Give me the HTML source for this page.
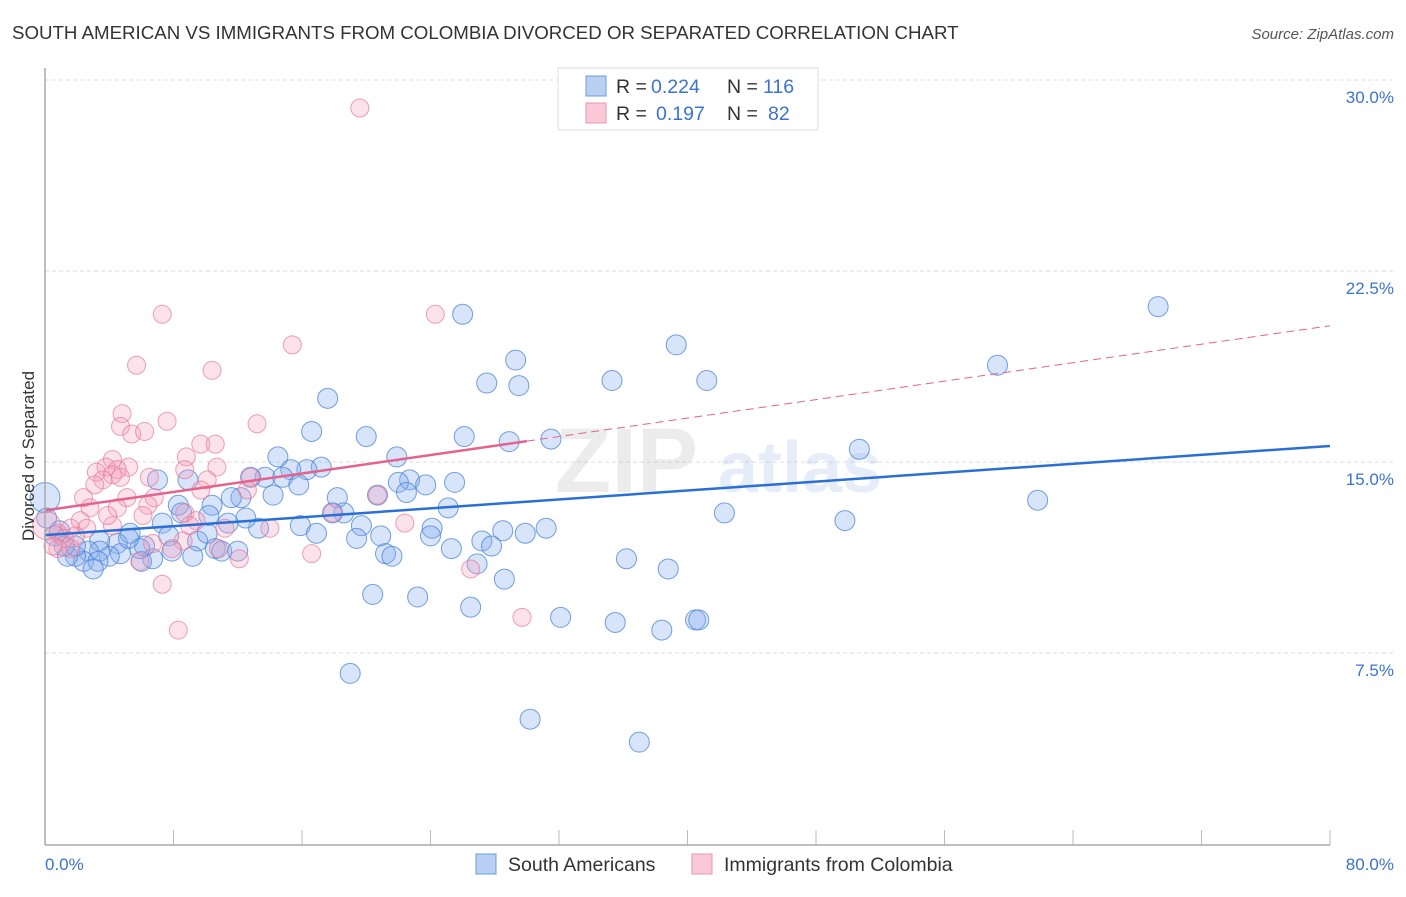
<!DOCTYPE html>
<html><head><meta charset="utf-8">
<style>
body{margin:0;background:#fff;font-family:"Liberation Sans",sans-serif;}
svg text{font-family:"Liberation Sans",sans-serif;}
</style></head>
<body>
<svg id="chart" width="1406" height="892" xmlns="http://www.w3.org/2000/svg">
<text x="12" y="39" font-size="18.7" fill="#333">SOUTH AMERICAN VS IMMIGRANTS FROM COLOMBIA DIVORCED OR SEPARATED CORRELATION CHART</text>
<text x="1394" y="39" font-size="15" fill="#555" text-anchor="end" font-style="italic">Source: ZipAtlas.com</text>
<g id="grid"></g>
<g opacity="0.13">
<text x="555" y="492" font-size="92" fill="#777" font-family="Liberation Serif" font-weight="bold">ZIP</text>
<text x="718" y="492" font-size="72" fill="#4a7ad0" font-weight="bold">atlas</text>
</g>
<g id="pts"></g>
<g id="lines"></g>
<line x1="45" y1="68" x2="45" y2="845" stroke="#aaa" stroke-width="1.5"/>
<line x1="45" y1="845" x2="1330" y2="845" stroke="#aaa" stroke-width="1.5"/>
<text transform="translate(34,456) rotate(-90)" font-size="17" fill="#333" text-anchor="middle">Divorced or Separated</text>
<text x="45" y="870" font-size="17" fill="#3a73d0">0.0%</text>
<text x="1394" y="870" font-size="17" fill="#3a73d0" text-anchor="end">80.0%</text>
<g>
<rect x="558" y="68" width="260" height="62" fill="#fff" stroke="#ddd"/>
<rect x="586" y="76" width="20" height="20" fill="#b9d0f3" stroke="#6b9be0"/>
<rect x="586" y="103" width="20" height="20" fill="#f9c9d7" stroke="#eb94af"/>
<text x="616" y="93" font-size="19.5" fill="#333">R =</text>
<text x="651" y="93" font-size="19.5" fill="#3a73d0">0.224</text>
<text x="727" y="93" font-size="19.5" fill="#333">N =</text>
<text x="763" y="93" font-size="19.5" fill="#3a73d0">116</text>
<text x="616" y="120" font-size="19.5" fill="#333">R =</text>
<text x="656" y="120" font-size="19.5" fill="#3a73d0">0.197</text>
<text x="727" y="120" font-size="19.5" fill="#333">N =</text>
<text x="768" y="120" font-size="19.5" fill="#3a73d0">82</text>
</g>
<g>
<rect x="476" y="854" width="20" height="20" fill="#b9d0f3" stroke="#6b9be0"/>
<text x="508" y="871" font-size="19.5" fill="#333">South Americans</text>
<rect x="692" y="854" width="20" height="20" fill="#f9c9d7" stroke="#eb94af"/>
<text x="724" y="871" font-size="19.5" fill="#333">Immigrants from Colombia</text>
</g>
</svg>
<script>
const yTicks=[7.5,15,22.5,30];
const yTickLabels=["7.5%","15.0%","22.5%","30.0%"];
const xTicks=[0,8,16,24,32,40,48,56,64,72,80];
const blueX=[69.3,59.3,50.7,61.8,49.8,42.3,39.3,41.2,35.3,26.0,29.3,27.5,29.5,31.5,28.9,26.1,17.6,20.0,16.6,21.9,31.2,28.5,29.9,27.2,27.8,24.1,25.3,24.0,26.9,28.6,36.2,38.8,32.1,35.5,38.4,40.5,40.7,26.5,23.2,20.4,19.0,30.2,37.0,22.7,23.7,25.5,22.0,22.5,25.1,20.7,17.2,16.3,15.3,14.5,13.7,14.8,15.8,12.8,14.2,12.2,11.6,18.2,18.6,17.9,19.7,19.4,20.9,21.2,21.6,15.9,16.9,13.3,12.5,11.4,10.4,10.2,8.3,8.5,8.9,7.0,7.3,7.7,9.5,10.1,10.6,11.0,12.0,9.2,7.9,6.7,6.0,6.2,5.3,4.5,4.7,4.0,3.4,3.4,2.7,2.4,3.3,3.0,1.9,1.4,1.9,0.9,0.6,0.0,0.1,1.2,5.9,5.2];
const blueY=[21.1,18.8,15.5,13.5,12.7,13.0,19.6,18.2,18.2,20.8,19.0,18.1,18.0,15.9,15.8,16.0,17.5,16.0,16.2,15.2,12.4,12.3,12.2,11.9,11.7,12.4,11.6,12.1,11.0,10.4,11.2,10.8,8.9,8.7,8.4,8.8,8.8,9.3,9.7,9.8,6.7,4.9,4.0,14.3,14.1,14.2,14.2,13.8,13.2,13.7,14.8,14.7,14.7,15.2,14.4,14.4,14.1,14.4,13.7,13.6,13.6,13.6,13.0,13.0,12.5,12.0,12.1,11.4,11.3,12.5,12.2,12.4,12.8,12.6,13.3,12.9,13.3,13.0,14.3,14.3,12.6,12.1,11.9,12.2,11.6,11.5,11.5,11.3,11.5,11.2,11.1,11.7,12.2,11.8,11.4,11.3,11.9,11.5,11.5,11.1,11.1,10.8,11.3,11.3,11.7,12.3,12.1,13.6,12.8,11.7,11.6,12.0];
const pinkX=[19.6,7.3,24.3,15.4,5.7,10.4,4.8,7.6,13.2,4.7,5.4,6.2,9.7,10.6,8.8,4.2,10.7,8.7,5.2,4.5,3.8,3.2,4.2,3.6,3.1,4.7,6.5,10.1,12.8,2.4,5.1,6.8,9.7,12.6,20.7,2.8,4.5,6.4,8.7,6.1,9.4,17.9,2.2,1.6,2.6,4.2,9.0,11.2,14.0,22.4,0.8,1.2,1.9,0.8,0.5,1.6,6.7,8.6,7.9,10.8,12.1,5.9,16.6,26.5,7.3,8.3,29.7,0.1,3.9];
const pinkY=[28.9,20.8,20.8,19.6,18.8,18.6,16.9,16.6,16.5,16.4,16.1,16.2,15.7,15.7,15.2,15.1,14.8,14.7,14.8,14.7,14.8,14.6,14.5,14.3,14.1,14.4,14.4,14.3,14.4,13.6,13.6,13.6,13.9,13.9,13.7,13.2,13.2,13.3,13.0,12.9,12.7,13.0,12.7,12.4,12.4,12.5,12.5,12.4,12.4,12.6,12.2,12.0,12.1,11.6,11.7,11.6,11.8,11.9,11.6,11.6,11.2,11.1,11.4,10.8,10.2,8.4,8.9,12.5,12.9];
const blueTrend=[12.13,15.63];
const pinkTrend=[13.1,20.35];
const pinkSolidEnd=30;
const NS="http://www.w3.org/2000/svg";
const xs=v=>45+v*(1285/80);
const ys=v=>844-v*(191/7.5);
function mk(t,a,p){const e=document.createElementNS(NS,t);for(const k in a)e.setAttribute(k,a[k]);p.appendChild(e);return e;}
const grid=document.getElementById('grid');
yTicks.forEach((t,i)=>{
 const l=mk('line',{x1:45,x2:1394,y1:ys(t),y2:ys(t),stroke:'#ddd','stroke-dasharray':'4,3'},grid);
 
 
 const tx=mk('text',{x:1394,y:ys(t)+23,'font-size':17,fill:'#3a73d0','text-anchor':'end'},grid);
 tx.textContent=yTickLabels[i];
 
 
});
xTicks.forEach(t=>{
 const l=mk('line',{x1:xs(t),x2:xs(t),y1:830,y2:845,stroke:'#bbb'},grid);
 
 
});
const pts=document.getElementById('pts');
blueX.forEach((x,i)=>{
 const r=(i===107)?15:10;
 const c=mk('circle',{cx:xs(x),cy:ys(blueY[i]),r:r,fill:'rgba(130,170,235,0.32)',stroke:'rgba(70,130,215,0.75)','stroke-width':1},pts);
 
 
});
pinkX.forEach((x,i)=>{
 const r=(i===67)?14:9;
 const c=mk('circle',{cx:xs(x),cy:ys(pinkY[i]),r:r,fill:'rgba(245,160,185,0.3)',stroke:'rgba(230,120,155,0.7)','stroke-width':1},pts);
 
 
});
const lines=document.getElementById('lines');
const bl=mk('line',{x1:xs(0),y1:ys(blueTrend[0]),x2:xs(80),y2:ys(blueTrend[1]),stroke:'#2a6fd6','stroke-width':2.5},lines);


const pAt=v=>pinkTrend[0]+(pinkTrend[1]-pinkTrend[0])*v/80;
const ps=mk('line',{x1:xs(0),y1:ys(pAt(0)),x2:xs(pinkSolidEnd),y2:ys(pAt(pinkSolidEnd)),stroke:'#e4628c','stroke-width':2.5},lines);


const pd=mk('line',{x1:xs(pinkSolidEnd),y1:ys(pAt(pinkSolidEnd)),x2:xs(80),y2:ys(pAt(80)),stroke:'#e4628c','stroke-width':1,'stroke-dasharray':'8,5'},lines);


</script>
</body></html>
